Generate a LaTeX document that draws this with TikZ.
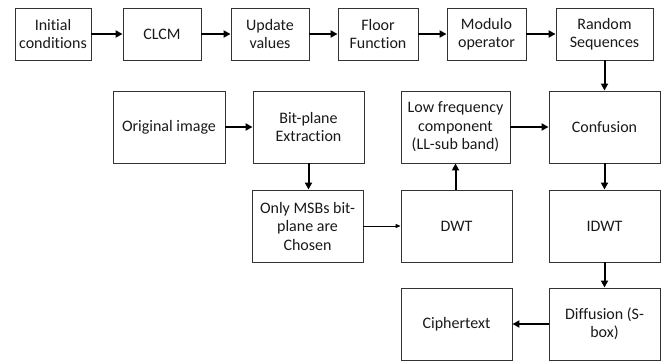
\documentclass[tikz,border=0pt]{standalone}
\usepackage{fontspec}
\setmainfont{Carlito}[Ligatures=NoCommon]
\usetikzlibrary{arrows.meta}
\begin{document}
\begin{tikzpicture}[x=1pt,y=-1pt,
  box/.style={draw=black!80, line width=0.9pt, align=center, inner sep=1pt,
    font=\fontsize{16}{18.5}\selectfont, text=black!90},
  thick arrow/.style={line width=2pt, -{Triangle[length=7pt,width=7pt]}},
  thin arrow/.style={line width=0.9pt, -{Triangle[length=5pt,width=4pt]}}]
\useasboundingbox (0,0) rectangle (667,362);
% row 1
\node[box, minimum width=76, minimum height=52] (init) at (53,34) {Initial\\conditions};
\node[box, minimum width=78, minimum height=52] (clcm) at (162,34) {CLCM};
\node[box, minimum width=78, minimum height=52] (upd) at (270,34) {Update\\values};
\node[box, minimum width=80, minimum height=52] (floor) at (378,34) {Floor\\Function};
\node[box, minimum width=79, minimum height=52] (mod) at (486.5,34) {Modulo\\operator};
\node[box, minimum width=97, minimum height=52] (rand) at (604.5,34) {Random\\Sequences};
% row 2
\node[box, minimum width=112, minimum height=72] (orig) at (169,127) {Original image};
\node[box, minimum width=111, minimum height=72] (bit) at (308.5,127) {Bit-plane\\Extraction};
\node[box, minimum width=109, minimum height=72] (low) at (455.5,127) {Low frequency\\component\\(LL-sub band)};
\node[box, minimum width=111, minimum height=72] (conf) at (604.5,127) {Confusion};
% row 3
\node[box, minimum width=111, minimum height=72] (msb) at (307.5,226) {Only MSBs bit-\\plane are\\Chosen};
\node[box, minimum width=111, minimum height=72] (dwt) at (456.5,226) {DWT};
\node[box, minimum width=111, minimum height=72] (idwt) at (604.5,226) {IDWT};
% row 4
\node[box, minimum width=111, minimum height=72] (ciph) at (456.5,324) {Ciphertext};
\node[box, minimum width=111, minimum height=72] (diff) at (604.5,324) {Diffusion (S-\\box)};
% arrows
\draw[thick arrow] (init) -- (clcm);
\draw[thick arrow] (clcm) -- (upd);
\draw[thick arrow] (upd) -- (floor);
\draw[thick arrow] (floor) -- (mod);
\draw[thick arrow] (mod) -- (rand);
\draw[thick arrow] (rand.south) -- (conf.north);
\draw[thick arrow] (orig) -- (bit);
\draw[thick arrow] (bit.south) -- (msb.north -| bit.south);
\draw[thin arrow] (msb) -- (dwt);
\draw[thick arrow] (dwt.north -| low.south) -- (low.south);
\draw[thick arrow] (low) -- (conf);
\draw[thick arrow] (conf) -- (idwt);
\draw[thick arrow] (idwt) -- (diff);
\draw[thick arrow] (diff) -- (ciph);
\end{tikzpicture}
\end{document}
